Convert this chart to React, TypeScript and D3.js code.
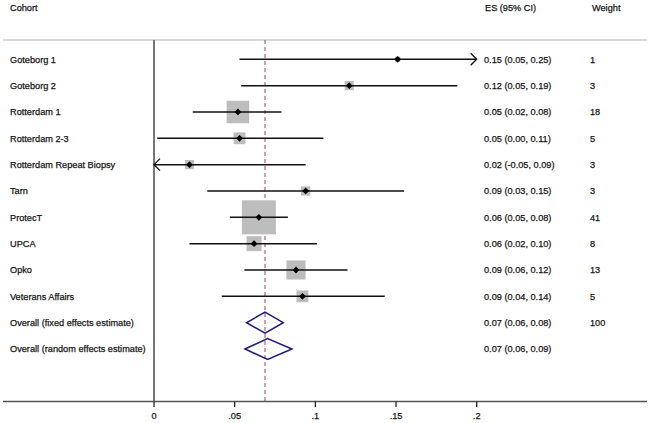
import React from "react";
import * as d3 from "d3";

const cohorts = [
  "Goteborg 1",
  "Goteborg 2",
  "Rotterdam 1",
  "Rotterdam 2-3",
  "Rotterdam Repeat Biopsy",
  "Tarn",
  "ProtecT",
  "UPCA",
  "Opko",
  "Veterans Affairs",
];
const es = [0.151, 0.121, 0.052, 0.053, 0.022, 0.094, 0.065, 0.062, 0.088, 0.092];
const lo = [0.053, 0.054, 0.024, 0.002, -0.05, 0.033, 0.047, 0.022, 0.056, 0.042];
const hi = [0.25, 0.188, 0.079, 0.105, 0.094, 0.155, 0.083, 0.101, 0.12, 0.143];
const weights = [1, 3, 18, 5, 3, 3, 41, 8, 13, 5];
const esText = [
  "0.15 (0.05, 0.25)",
  "0.12 (0.05, 0.19)",
  "0.05 (0.02, 0.08)",
  "0.05 (0.00, 0.11)",
  "0.02 (-0.05, 0.09)",
  "0.09 (0.03, 0.15)",
  "0.06 (0.05, 0.08)",
  "0.06 (0.02, 0.10)",
  "0.09 (0.06, 0.12)",
  "0.09 (0.04, 0.14)",
];

const overallLabels = ["Overall (fixed effects estimate)", "Overall (random effects estimate)"];
const overallEs = [0.0688, 0.0704];
const overallLo = [0.0574, 0.0564];
const overallHi = [0.0801, 0.0855];
const overallText = ["0.07 (0.06, 0.08)", "0.07 (0.06, 0.09)"];
const overallWeight = ["100", ""];

const tickValues = [0, 0.05, 0.1, 0.15, 0.2];
const tickLabels = ["0", ".05", ".1", ".15", ".2"];

const W = 650;
const H = 423;
const FONT = "'Liberation Sans', Arial, sans-serif";

export default function App() {
  const x = d3.scaleLinear().domain([0, 0.2]).range([154, 476.7]);
  const nRows = cohorts.length + overallLabels.length;
  const y = d3.scaleLinear().domain([0, nRows - 1]).range([59.3, 349]);
  const box = d3.scaleSqrt().domain([0, 41]).range([0, 34]);
  const [xmin, xmax] = x.domain();
  const m = 3.4;
  const marker = `M0,${-m}L${m},0L0,${m}L${-m},0Z`;
  const textStyle = {
    fontFamily: FONT,
    fontSize: 9.2,
    fill: "#161616",
    stroke: "#161616",
    strokeWidth: 0.25,
  } as const;

  const topY = 40;
  const axisY = 401.5;
  const colEs = 484;
  const colW = 590;

  return (
    <svg
      width={W}
      height={H}
      style={{ position: "absolute", left: 0, top: 0, background: "#fff" }}
    >
      <rect x={0} y={0} width={W} height={H} fill="#fff" />
      {/* headers */}
      <text x={10} y={11} {...textStyle}>Cohort</text>
      <text x={485} y={11} {...textStyle}>ES (95% CI)</text>
      <text x={592} y={11} {...textStyle}>Weight</text>

      {/* top rule */}
      <line x1={3} x2={647} y1={topY} y2={topY} stroke="#d9d9d9" strokeWidth={2} />

      {/* vertical zero line */}
      <line x1={x(0)} x2={x(0)} y1={topY} y2={axisY} stroke="#555" strokeWidth={1.6} />

      {/* overall dashed line */}
      <line
        x1={x(overallEs[0])}
        x2={x(overallEs[0])}
        y1={topY}
        y2={axisY}
        stroke="#a5424f"
        strokeWidth={1}
        strokeDasharray="4,3"
      />

      {/* studies */}
      {cohorts.map((c, i) => {
        const cy = y(i);
        const l = Math.max(lo[i], xmin);
        const h = Math.min(hi[i], xmax);
        const s = box(weights[i]);
        return (
          <g key={c}>
            <text x={10} y={cy + 3.3} {...textStyle}>{c}</text>
            <rect
              x={x(es[i]) - s / 2}
              y={cy - s / 2}
              width={s}
              height={s}
              fill="#bdbdbd"
            />
            <line x1={x(l)} x2={x(h)} y1={cy} y2={cy} stroke="#111" strokeWidth={1.5} />
            {hi[i] > xmax && (
              <path
                d={`M${x(xmax) - 6},${cy - 6}L${x(xmax)},${cy}L${x(xmax) - 6},${cy + 6}`}
                fill="none"
                stroke="#111"
                strokeWidth={1.3}
              />
            )}
            {lo[i] < xmin && (
              <path
                d={`M${x(xmin) + 6},${cy - 6}L${x(xmin)},${cy}L${x(xmin) + 6},${cy + 6}`}
                fill="none"
                stroke="#111"
                strokeWidth={1.3}
              />
            )}
            <path d={marker} transform={`translate(${x(es[i])},${cy})`} fill="#000" />
            <text x={colEs} y={cy + 3.3} {...textStyle}>{esText[i]}</text>
            <text x={colW} y={cy + 3.3} {...textStyle}>{weights[i]}</text>
          </g>
        );
      })}

      {/* overall */}
      {overallLabels.map((lab, j) => {
        const cy = y(cohorts.length + j);
        const pts = [
          [x(overallLo[j]), cy],
          [x(overallEs[j]), cy - 10.5],
          [x(overallHi[j]), cy],
          [x(overallEs[j]), cy + 10.5],
        ];
        return (
          <g key={lab}>
            <text x={10} y={cy + 3.3} {...textStyle}>{lab}</text>
            <path
              d={"M" + pts.map((p) => p.join(",")).join("L") + "Z"}
              fill="none"
              stroke="#1c1c78"
              strokeWidth={1.5}
            />
            <text x={colEs} y={cy + 3.3} {...textStyle}>{overallText[j]}</text>
            <text x={colW} y={cy + 3.3} {...textStyle}>{overallWeight[j]}</text>
          </g>
        );
      })}

      {/* x axis */}
      <line x1={3} x2={647} y1={axisY} y2={axisY} stroke="#555" strokeWidth={1.6} />
      {tickValues.map((t, k) => (
        <g key={t} transform={`translate(${x(t)},${axisY})`}>
          <line y1={0} y2={5.5} stroke="#222" strokeWidth={1.3} />
          <text y={17.5} textAnchor="middle" {...textStyle}>{tickLabels[k]}</text>
        </g>
      ))}
    </svg>
  );
}
